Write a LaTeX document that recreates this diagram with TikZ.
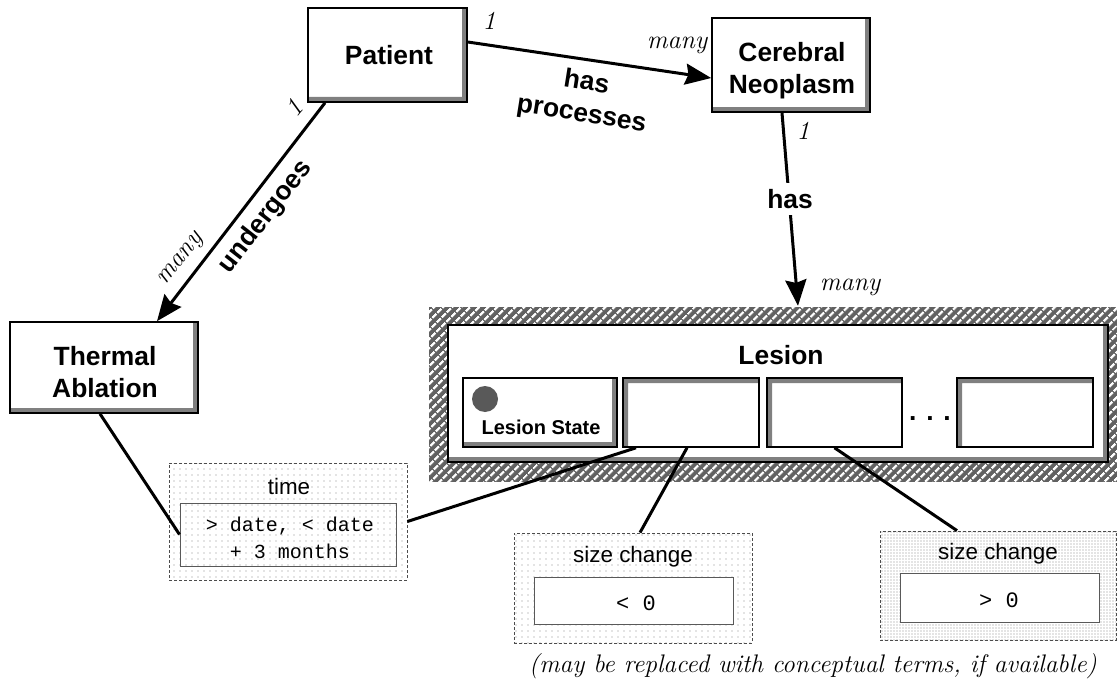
\documentclass[tikz,border=0pt]{standalone}
\usepackage{fontspec}
\usetikzlibrary{arrows.meta,patterns.meta}
\newfontfamily\sansfam{Liberation Sans}
\newfontfamily\monofam{Liberation Mono}
\begin{document}
\begin{tikzpicture}[x=1pt,y=-1pt,>={Stealth[length=26pt,width=21pt,inset=3pt]},
	raised/.style={draw, line width=1.6pt, fill=white, inner sep=0pt,
		path picture={\fill[black!50] (path picture bounding box.south west) -- (path picture bounding box.south east) -- (path picture bounding box.north east) -- ([xshift=-5pt]path picture bounding box.north east) -- ([xshift=-5pt,yshift=5pt]path picture bounding box.south east) -- ([yshift=5pt]path picture bounding box.south west) -- cycle;}},
	sunken/.style={draw, line width=1.6pt, fill=white, inner sep=0pt,
		path picture={\fill[black!50] (path picture bounding box.south west) -- (path picture bounding box.north west) -- (path picture bounding box.north east) -- ([yshift=-5pt]path picture bounding box.north east) -- ([xshift=5pt,yshift=-5pt]path picture bounding box.north west) -- ([xshift=5pt]path picture bounding box.south west) -- cycle;}},
	hatched/.style={preaction={fill=black!62}, pattern={Lines[angle=45,distance=6.5pt,line width=2.4pt]}, pattern color=white, inner sep=0pt},
	stipple/.style={preaction={fill=white}, pattern={Dots[radius=0.55pt,distance=#1]}, pattern color=black!45},
	slot/.style={draw=black!70, densely dashed, line width=0.8pt, inner sep=0pt},
	valuebox/.style={draw=black!65, line width=1pt, inner sep=0pt},
	valuetext/.style={inner sep=0pt, align=center, font=\monofam\fontsize{20}{27}\selectfont},
	heading/.style={inner sep=0pt, align=center, font=\sansfam\bfseries\fontsize{26.4}{32}\selectfont},
	slotname/.style={inner sep=0pt, font=\sansfam\fontsize{22.4}{27}\selectfont},
	card/.style={inner sep=0pt, font=\itshape\fontsize{26}{30}\selectfont},
	link/.style={line width=3pt}]
		\useasboundingbox (0,0) rectangle (1117,685);

		% Nodes
		\node[raised, minimum width=159pt, minimum height=94pt] (patient) at (387.5,55) {};
		\node[heading] (patientname) at (389,55) {Patient};
		\node[raised, minimum width=158pt, minimum height=94pt] (neoplasm) at (791,65) {};
		\node[heading] (neoplasmname) at (792,71) {Cerebral\\Neoplasm};
		\node[raised, minimum width=188pt, minimum height=91pt] (ablation) at (104,367.5) {};
		\node[heading] (ablationname) at (105,372) {Thermal\\Ablation};

		% Lesion frame and its row of states
		\node[hatched, minimum width=690pt, minimum height=175pt] (hatch) at (774,394.5) {};
		\node[raised, minimum width=660pt, minimum height=137pt] (lesion) at (778,393.5) {};
		\node[heading] (lesiontitle) at (781,355) {Lesion};
		\node[raised, minimum width=154pt, minimum height=69pt] (state) at (540,412.5) {};
		\node[circle, fill=black!65, minimum size=26pt, inner sep=0pt] (icon) at (485,399) {};
		\node[inner sep=0pt, font=\sansfam\bfseries\fontsize{20}{24}\selectfont] (statename) at (541,427) {Lesion State};
		\node[sunken, minimum width=136pt, minimum height=69pt] (first) at (691,412.5) {};
		\node[sunken, minimum width=135pt, minimum height=69pt] (second) at (834.5,412.5) {};
		\node[heading] (dots) at (930,419) {. . .};
		\node[sunken, minimum width=136pt, minimum height=69pt] (third) at (1025,412.5) {};

		% Slots
		\node[slot, stipple=6pt, minimum width=238pt, minimum height=117pt] (time) at (288,521.5) {};
		\node[slotname] (timename) at (289,486) {time};
		\node[valuebox, stipple=6pt, minimum width=216pt, minimum height=63pt] (timeval) at (288,534.5) {};
		\node[valuetext] (timetext) at (290,538) {> date, < date\\+ 3 months};
		\node[slot, stipple=6pt, minimum width=238pt, minimum height=110pt] (sizeless) at (633,588) {};
		\node[slotname] (sizelessname) at (633,557) {size change};
		\node[valuebox, fill=white, minimum width=199pt, minimum height=47pt] (sizelessval) at (633.5,600.5) {};
		\node[valuetext, font=\monofam\fontsize{22}{27}\selectfont] (sizelesstext) at (636,603) {< 0};
		\node[slot, stipple=3pt, minimum width=236pt, minimum height=109pt] (sizemore) at (998,585.5) {};
		\node[slotname] (sizemorename) at (998,554) {size change};
		\node[valuebox, fill=white, minimum width=199pt, minimum height=49pt] (sizemoreval) at (999.5,597.5) {};
		\node[valuetext, font=\monofam\fontsize{22}{27}\selectfont] (sizemoretext) at (999,600) {> 0};

		% Edges
		\draw[->, link] ([yshift=13pt]patient.east) -- ([yshift=-13pt]neoplasm.west);
		\draw[->, link] ([xshift=-62.5pt]patient.south) -- ([xshift=53pt]ablation.north);
		\draw[->, link] ([xshift=-9pt]neoplasm.south) -- ([xshift=24pt]hatch.north);
		\draw[link] ([xshift=-4pt]ablation.south) -- (timeval.west);
		\draw[link] (time.east) -- ([xshift=-55pt]first.south);
		\draw[link] ([xshift=-4pt]first.south) -- ([xshift=7pt]sizeless.north);
		\draw[link] (second.south) -- ([xshift=-41pt]sizemore.north);

		% Edge labels
		\node[heading, rotate=-9] (hasprocesses) at (584,99) {has\\processes};
		\node[heading, rotate=52] (undergoes) at (266,217) {undergoes};
		\node[heading, fill=white, inner ysep=6pt] (has) at (790,199) {has};
		\node[card] (onea) at (489,21) {1};
		\node[card] (manya) at (677,45) {many};
		\node[card, rotate=50] (oneb) at (294,108) {1};
		\node[card, rotate=52] (manyb) at (182,260) {many};
		\node[card] (onec) at (803,131) {1};
		\node[card] (manyc) at (850,287) {many};
		\node[card, font=\itshape\fontsize{25.4}{30}\selectfont] (note) at (813,666) {(may be replaced with conceptual terms, if available)};
\end{tikzpicture}
\end{document}
